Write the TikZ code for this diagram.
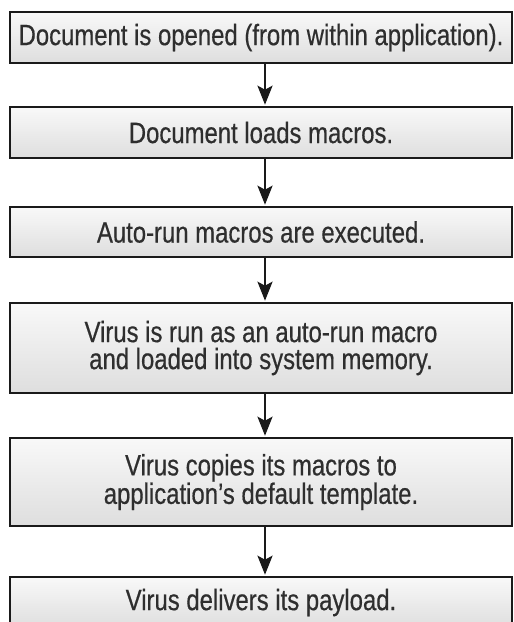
\documentclass[tikz,border=0pt]{standalone}
\usepackage{fontspec}
\setmainfont[FakeStretch=0.81,FakeBold=0.5]{Liberation Sans}
\usetikzlibrary{arrows.meta}
\definecolor{edge}{HTML}{1A1A1A}
\definecolor{ink}{HTML}{2E2E2E}
\tikzset{
  stepbox/.style={draw=edge, line width=2.6pt, rectangle,
    top color=gray!5, bottom color=gray!26,
    minimum width=502pt, inner sep=0pt,
    font=\fontsize{29.5}{27}\selectfont, text=ink, align=center},
  flow/.style={draw=edge, line width=2.4pt,
    -{Stealth[length=19pt,width=15pt,inset=4pt]}, shorten >=1pt}
}
\begin{document}
\begin{tikzpicture}[x=1pt,y=-1pt]
  \useasboundingbox (0,0) rectangle (514,622);
  \clip (0,0) rectangle (514,622);
  \fill[white] (0,0) rectangle (514,622);
  \node[stepbox, minimum height=51pt] (b1) at (261,37.5)
    {Document is opened (from within application).};
  \node[stepbox, minimum height=51pt] (b2) at (261,132.5)
    {Document loads macros.};
  \node[stepbox, minimum height=50pt] (b3) at (261,232)
    {Auto-run macros are executed.};
  \node[stepbox, minimum height=90pt] (b4) at (261,348)
    {Virus is run as an auto-run macro\\and loaded into system memory.};
  \node[stepbox, minimum height=88pt] (b5) at (261,482)
    {Virus copies its macros to\\application’s default template.};
  \node[stepbox, minimum height=51pt] (b6) at (261,602.5)
    {Virus delivers its payload.};
  \draw[flow] (b1.south -| 265,0) -- (b2.north -| 265,0);
  \draw[flow] (b2.south -| 265,0) -- (b3.north -| 265,0);
  \draw[flow] (b3.south -| 265,0) -- (b4.north -| 265,0);
  \draw[flow] (b4.south -| 265,0) -- (b5.north -| 265,0);
  \draw[flow] (b5.south -| 265,0) -- (b6.north -| 265,0);
\end{tikzpicture}
\end{document}
